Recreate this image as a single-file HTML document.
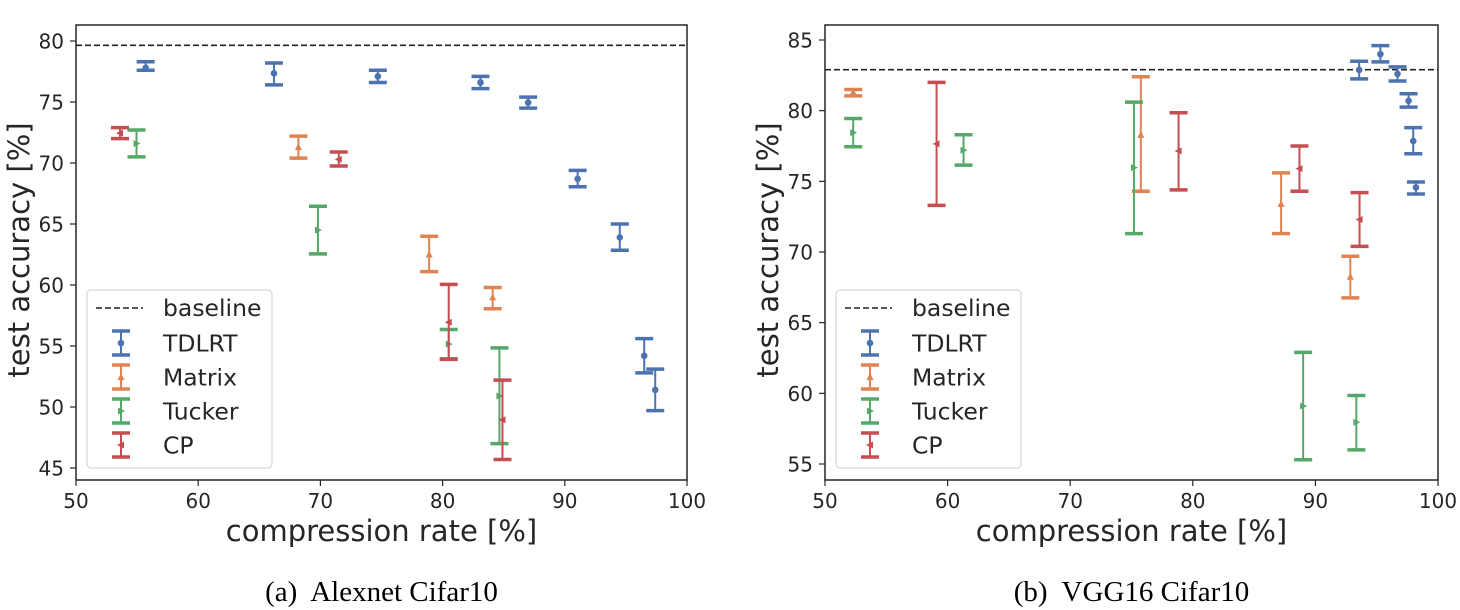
<!DOCTYPE html>
<html><head><meta charset="utf-8"><style>
html,body{margin:0;padding:0;background:#fff}
svg{display:block}
text{font-family:"DejaVu Sans","Liberation Sans",sans-serif;fill:#262626}
</style></head><body>
<svg id="s" width="1460" height="610" xmlns="http://www.w3.org/2000/svg"></svg>
<script>
const S=document.getElementById('s');let h='';
const C={T:'#4c72b0',M:'#dd8452',U:'#55a868',P:'#c44e52'};
function marker(t,x,y,c){
 if(t=='T')return `<circle cx="${x}" cy="${y}" r="3.3" fill="${c}"/>`;
 if(t=='M')return `<polygon points="${x},${y-4} ${x-3.5},${y+3} ${x+3.5},${y+3}" fill="${c}"/>`;
 if(t=='U')return `<polygon points="${x+4},${y} ${x-3},${y-3.5} ${x-3},${y+3.5}" fill="${c}"/>`;
 return `<polygon points="${x-4},${y} ${x+3},${y-3.5} ${x+3},${y+3.5}" fill="${c}"/>`;
}
function eb(t,x,y,lo,hi){const c=C[t];
 return `<line x1="${x}" x2="${x}" y1="${lo}" y2="${hi}" stroke="${c}" stroke-width="2"/>`+
 `<line x1="${x-9}" x2="${x+9}" y1="${lo}" y2="${lo}" stroke="${c}" stroke-width="3.5"/>`+
 `<line x1="${x-9}" x2="${x+9}" y1="${hi}" y2="${hi}" stroke="${c}" stroke-width="3.5"/>`+marker(t,x,y,c);}
function plot(P){
 const X=v=>P.x0+(v-50)/50*(P.x1-P.x0), Y=v=>P.yA+(P.vA-v)/(P.vA-P.vB)*(P.yB-P.yA);
 for(let v=50;v<=100;v+=10){const x=X(v);h+=`<line x1="${x}" x2="${x}" y1="480" y2="486" stroke="#262626" stroke-width="1.2"/><text x="${x}" y="508" font-size="20" text-anchor="middle">${v}</text>`;}
 P.yt.forEach(v=>{const y=Y(v);h+=`<line x1="${P.x0-6}" x2="${P.x0}" y1="${y}" y2="${y}" stroke="#262626" stroke-width="1.2"/><text x="${P.x0-12}" y="${y+7.5}" font-size="20" text-anchor="end">${v}</text>`;});
 h+=`<line x1="${P.x0}" x2="${P.x1}" y1="${Y(P.base)}" y2="${Y(P.base)}" stroke="#222" stroke-width="1.6" stroke-dasharray="6,3"/>`;
 P.d.forEach(r=>{h+=eb(r[0],X(r[1]),Y(r[2]),Y(r[3]),Y(r[4]));});
 h+=`<rect x="${P.x0}" y="25" width="${P.x1-P.x0}" height="455" fill="none" stroke="#262626" stroke-width="1.5"/>`;
 const lx=P.x0+11;h+=`<rect x="${lx}" y="290" width="185" height="178" rx="4" fill="#fff" fill-opacity="0.85" stroke="#ccc" stroke-width="1"/>`;
 h+=`<line x1="${lx+9}" x2="${lx+56}" y1="308" y2="308" stroke="#222" stroke-width="1.6" stroke-dasharray="6,3"/><text x="${lx+76}" y="316" font-size="23.5">baseline</text>`;
 [['T','TDLRT'],['M','Matrix'],['U','Tucker'],['P','CP']].forEach((e,i)=>{const cy=343+i*34;h+=eb(e[0],lx+34,cy,cy+12,cy-12);h+=`<text x="${lx+76}" y="${cy+8.5}" font-size="23.5">${e[1]}</text>`;});
 h+=`<text x="${(P.x0+P.x1)/2}" y="541" font-size="29" text-anchor="middle">compression rate [%]</text>`;
 h+=`<text transform="translate(${P.x0-47},250) rotate(-90)" font-size="29" text-anchor="middle">test accuracy [%]</text>`;
 h+=`<text x="${(P.x0+P.x1)/2}" y="601" font-size="29" text-anchor="middle" style="font-family:'Liberation Serif',serif;fill:#000">${P.cap}</text>`;
}
plot({x0:76,x1:687,yA:41,vA:80,yB:468,vB:45,yt:[45,50,55,60,65,70,75,80],base:79.65,cap:'(a)&#160; Alexnet Cifar10',d:[
['T',55.7,77.8,78.3,77.6],['T',66.2,77.35,78.2,76.4],['T',74.7,77.1,77.6,76.6],['T',83.1,76.6,77.1,76.1],['T',87.0,74.95,75.4,74.5],['T',91.05,68.7,69.4,68.05],['T',94.5,63.9,65.0,62.85],['T',96.5,54.2,55.6,52.8],['T',97.4,51.4,53.1,49.7],
['M',68.2,71.3,72.2,70.4],['M',78.9,62.5,64.0,61.1],['M',84.1,59.0,59.8,58.05],
['U',54.95,71.6,72.7,70.5],['U',69.8,64.5,66.45,62.55],['U',80.5,55.15,56.35,53.95],['U',84.65,50.9,54.85,47.0],
['P',53.6,72.45,72.9,72.0],['P',71.5,70.3,70.9,69.75],['P',80.5,56.95,60.05,53.9],['P',84.9,48.95,52.2,45.7]]});
plot({x0:825,x1:1438,yA:40,vA:85,yB:464,vB:55,yt:[55,60,65,70,75,80,85],base:82.9,cap:'(b)&#160; VGG16 Cifar10',d:[
['T',93.57,82.88,83.5,82.25],['T',95.3,84.0,84.6,83.45],['T',96.7,82.6,83.1,82.1],['T',97.6,80.7,81.2,80.25],['T',97.98,77.85,78.8,76.95],['T',98.2,74.57,74.95,74.1],
['M',52.3,81.3,81.5,81.05],['M',75.76,78.3,82.4,74.3],['M',87.2,73.4,75.6,71.3],['M',92.85,68.25,69.7,66.75],
['U',52.3,78.45,79.45,77.45],['U',61.3,77.2,78.3,76.15],['U',75.2,75.97,80.6,71.3],['U',89.0,59.1,62.9,55.3],['U',93.34,57.95,59.85,56.0],
['P',59.1,77.65,82.0,73.3],['P',78.84,77.15,79.85,74.4],['P',88.7,75.9,77.5,74.3],['P',93.6,72.3,74.2,70.4]]});
S.innerHTML=h;
</script>
</body></html>
